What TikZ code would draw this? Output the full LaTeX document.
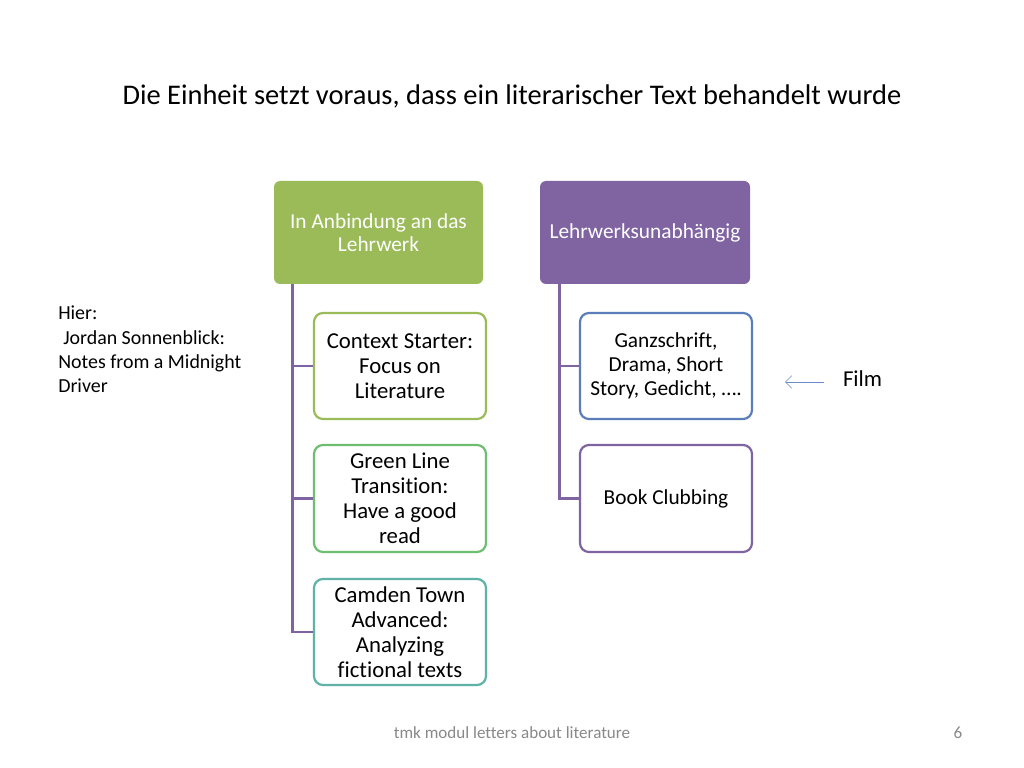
\documentclass[tikz,border=0pt]{standalone}
\usepackage{fontspec}
\setmainfont{Carlito}[Ligatures=NoCommon]
\usetikzlibrary{arrows.meta}
\definecolor{hdgreen}{HTML}{9BBB59}
\definecolor{hdpurple}{HTML}{8064A2}
\definecolor{bxgreen}{HTML}{6EBE72}
\definecolor{bxteal}{HTML}{5FB3A6}
\definecolor{bxblue}{HTML}{5B7EBB}
\definecolor{arblue}{HTML}{6A8DC8}
\definecolor{ftgray}{HTML}{898989}
\def\px{0.703125pt}
\tikzset{
	head/.style={rounded corners=6*\px, text=white, align=center, font=\fontsize{15}{16.2}\selectfont, minimum height=103*\px, inner sep=0pt},
	child/.style={rounded corners=9*\px, draw, line width=2.2*\px, fill=white, align=center, font=\fontsize{16}{17.6}\selectfont, minimum width=172*\px, minimum height=106*\px, inner sep=0pt},
	conn/.style={draw=hdpurple, line width=2.8*\px},
}
\begin{document}
	\begin{tikzpicture}[x=\px, y=-\px]
		\useasboundingbox (0,0) rectangle (1024,768);
		\fill[white] (0,0) rectangle (1024,768);
		\node[black, font=\fontsize{20}{24}\selectfont] (title) at (512,96) {Die Einheit setzt voraus, dass ein literarischer Text behandelt wurde};
		\node[head, fill=hdgreen, minimum width=209*\px] (hgreen) at (378.5,232.5) {In Anbindung an das\\Lehrwerk};
		\node[head, fill=hdpurple, minimum width=210*\px] (hpurple) at (645,232.5) {Lehrwerksunabhängig};
		\node[child, draw=hdgreen] (cs) at (400,366) {Context Starter:\\Focus on\\Literature};
		\node[child, draw=bxgreen, minimum height=107*\px] (gl) at (400,498.5) {Green Line\\Transition:\\ Have a good\\read};
		\node[child, draw=bxteal] (ct) at (400,632) {Camden Town\\Advanced:\\Analyzing\\fictional texts};
		\node[child, draw=bxblue, font=\fontsize{15}{16.9}\selectfont] (gs) at (666,366) {Ganzschrift,\\Drama, Short\\Story, Gedicht, \dots.};
		\node[child, draw=hdpurple, minimum height=107*\px, font=\fontsize{15}{16.9}\selectfont] (bc) at (666,498.5) {Book Clubbing};
		% Verbindungen
		\draw[conn] ([xshift=19*\px]hgreen.south west) |- (cs.west);
		\draw[conn] ([xshift=19*\px]hgreen.south west) |- (gl.west);
		\draw[conn] ([xshift=19*\px]hgreen.south west) |- (ct.west);
		\draw[conn] ([xshift=20*\px]hpurple.south west) |- (gs.west);
		\draw[conn] ([xshift=20*\px]hpurple.south west) |- (bc.west);
		\node[black, anchor=west, font=\fontsize{16}{19}\selectfont] (film) at (838,379) {Film};
		\coordinate (arrstart) at (824,382);
		\draw[arblue, thin, -{Straight Barb[length=4.5pt, width=9pt]}] (arrstart) -- (785,382);
		\node[black, anchor=north west, align=left, inner sep=0pt, font=\fontsize{14}{16.9}\selectfont] (hier) at (58,306) {Hier:\\\hspace*{0.25em}Jordan Sonnenblick:\\Notes from a Midnight\\Driver};
		\node[ftgray, font=\fontsize{12}{14}\selectfont] (footer) at (512,733) {tmk modul letters about literature};
		\node[ftgray, font=\fontsize{12}{14}\selectfont] (pagenr) at (958,733) {6};
	\end{tikzpicture}
\end{document}
